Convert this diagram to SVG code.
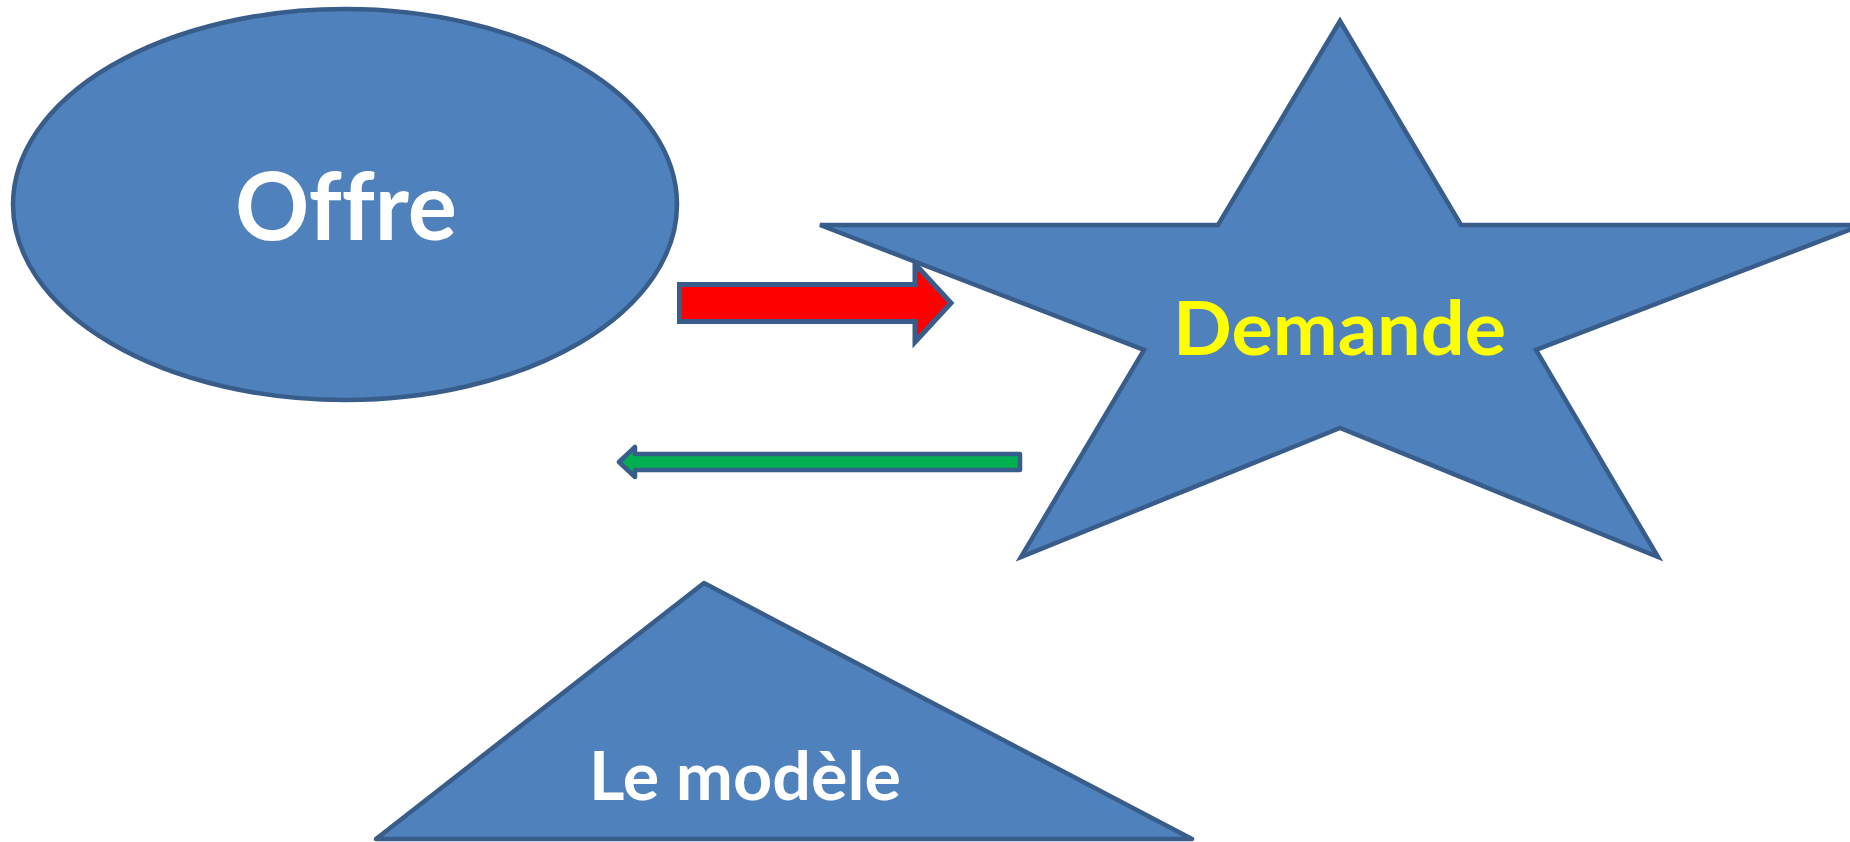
<svg xmlns="http://www.w3.org/2000/svg" width="1850" height="842" viewBox="0 0 1850 842">
  <style>
    .shape { fill: #4F81BD; stroke: #385D8A; stroke-width: 4.5; }
    .lbl { font-family: "Lato", "Open Sans", "Liberation Sans", sans-serif; font-weight: bold; font-variant-ligatures: none; font-feature-settings: "liga" 0; }
    .white { fill: #FFFFFF; }
    .yellow { fill: #FFFF00; }
  </style>
  <rect x="0" y="0" width="1850" height="842" fill="#FFFFFF"/>
  <g id="node-offre">
    <ellipse class="shape" cx="345" cy="204.5" rx="332" ry="195.5"/>
    <text class="lbl white" x="235" y="240" font-size="94" textLength="222" lengthAdjust="spacingAndGlyphs">Offre</text>
  </g>
  <g id="node-demande">
    <path class="shape" stroke-width="5" d="M1340,21 L1461,225 L1862,225 L1536,350 L1658,557 L1340,428 L1021,557 L1144,350 L820,225 L1218,225 Z"/>
    <text class="lbl yellow" x="1173" y="355" font-size="74" textLength="333" lengthAdjust="spacingAndGlyphs">Demande</text>
  </g>
  <g id="node-modele">
    <path class="shape" stroke-width="5" stroke-linejoin="round" d="M704,583 L1192,839 L376,839 Z"/>
    <text class="lbl white" x="589" y="800" font-size="66" textLength="312" lengthAdjust="spacingAndGlyphs">Le modèle</text>
  </g>
  <g id="connectors">
    <path id="arrow-offre-demande" d="M679.5,284.5 L915,284.5 L915,264 L951,303 L915,342 L915,321.5 L679.5,321.5 Z" fill="#FF0000" stroke="#385D8A" stroke-width="5"/>
    <path id="arrow-demande-offre" d="M619,462 L635,447 L635,454 L1020,454 L1020,470 L635,470 L635,477 Z" fill="#00B050" stroke="#385D8A" stroke-width="4.5" stroke-linejoin="round"/>
  </g>
</svg>
